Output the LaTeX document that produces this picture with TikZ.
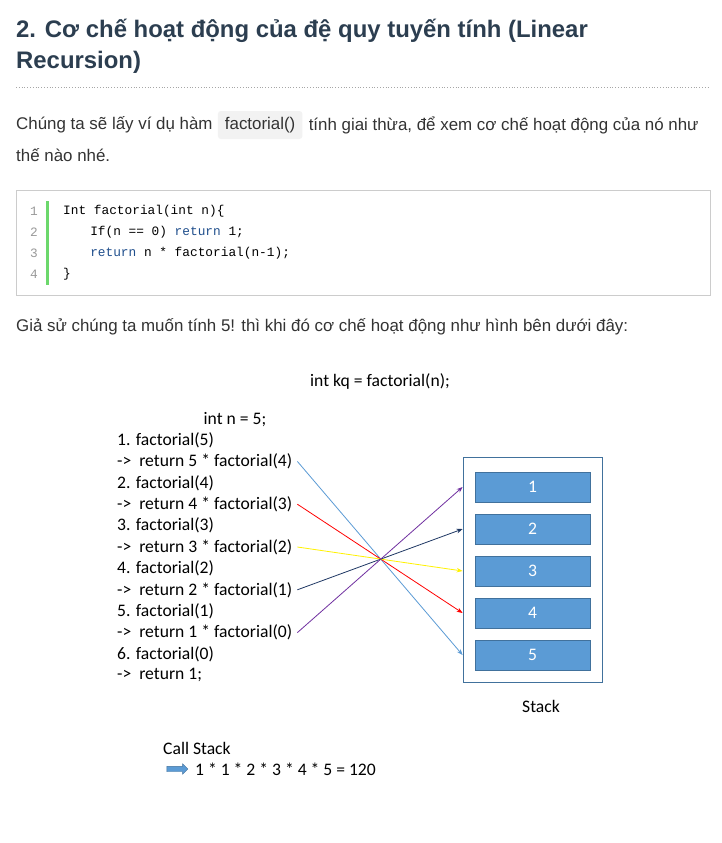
\documentclass[tikz,border=0pt]{standalone}
\usepackage{fontspec}
\setmainfont{Liberation Sans}
\setmonofont{Liberation Mono}
\newfontfamily\calibri{Carlito}
\usepackage{xcolor}
\usetikzlibrary{positioning,arrows.meta,shapes.arrows}

\definecolor{headcol}{HTML}{2C3E50}
\definecolor{bodycol}{HTML}{333333}
\definecolor{codebg}{HTML}{F2F2F2}
\definecolor{codeline}{HTML}{CCCCCC}
\definecolor{gutter}{HTML}{6CD86C}
\definecolor{kwcol}{HTML}{1F4E8C}
\definecolor{stackfill}{HTML}{5B9BD5}
\definecolor{stackline}{HTML}{41719C}
\definecolor{navycol}{HTML}{1F3864}
\definecolor{purplecol}{HTML}{7030A0}

\tikzset{
	body/.style={anchor=west,inner sep=0pt,text=bodycol,font=\fontsize{16.9}{20}\selectfont},
	diag/.style={anchor=west,inner sep=0pt,font=\calibri\fontsize{17.6}{20}\selectfont},
	codetxt/.style={anchor=west,inner sep=0pt,font=\ttfamily\fontsize{12.8}{15}\selectfont},
	lineno/.style={anchor=east,inner sep=0pt,text=gray!80,font=\ttfamily\fontsize{12.8}{15}\selectfont},
	cell/.style={draw=stackline,fill=stackfill,text=white,minimum width=115pt,minimum height=30pt,
		inner sep=0pt,font=\calibri\fontsize{17.6}{20}\selectfont},
	link/.style={-{Stealth[length=6pt,width=4.5pt]},line width=0.8pt}
}

\begin{document}
\begin{tikzpicture}[x=1pt,y=-1pt]
	\useasboundingbox[fill=white] (0,0) rectangle (721,843);
	
	% heading
	\node[anchor=west,inner sep=0pt,text=headcol,font=\bfseries\fontsize{23.9}{28}\selectfont] (h1) at (16,31)
		{2. Cơ chế hoạt động của đệ quy tuyến tính (Linear};
	\node[anchor=west,inner sep=0pt,text=headcol,font=\bfseries\fontsize{23.9}{28}\selectfont] (h2) at (16,62)
		{Recursion)};
	\draw[gray!70,dotted,line width=0.8pt] (16,87) -- (710,87);
	
	\node[body] (p1) at (16,125) {Chúng ta sẽ lấy ví dụ hàm};
	\node[body,fill=codebg,rounded corners=3pt,inner xsep=7pt,minimum height=28pt,right=5pt of p1] (fn) {factorial()};
	\node[body,right=6pt of fn] (p2) {tính giai thừa, để xem cơ chế hoạt động của nó như};
	\node[body] (p3) at (16,155) {thế nào nhé.};
	
	% code block
	\draw[codeline,line width=0.8pt] (16,190) rectangle (710,295);
	\draw[gutter,line width=3pt] (47.5,201) -- (47.5,285);
	\foreach \i in {1,2,3,4}
		\node[lineno] (n\i) at (38,190+21*\i) {\i};
	\node[codetxt] (c1) at (63,211) {Int factorial(int n)\{};
	\node[codetxt] (c2) at (63,232) {\hspace{4ex}If(n == 0) \textcolor{kwcol}{return} 1;};
	\node[codetxt] (c3) at (63,253) {\hspace{4ex}\textcolor{kwcol}{return} n * factorial(n-1);};
	\node[codetxt] (c4) at (63,274) {\}};
	
	\node[body] (p4) at (16,327) {Giả sử chúng ta muốn tính 5! thì khi đó cơ chế hoạt động như hình bên dưới đây:};
	
	% diagram
	\node[diag,anchor=center] (kq) at (380,381) {int kq = factorial(n);};
	\node[diag,anchor=center] (nv) at (235,420) {int n = 5;};
	\foreach \t [count=\i] in {1. factorial(5), ->\ \ return 5 * factorial(4),
		2. factorial(4), ->\ \ return 4 * factorial(3),
		3. factorial(3), ->\ \ return 3 * factorial(2),
		4. factorial(2), ->\ \ return 2 * factorial(1),
		5. factorial(1), ->\ \ return 1 * factorial(0),
		6. factorial(0), ->\ \ return 1;}
		\node[diag] (l\i) at (117,418.6+21.4*\i) {\t};
	
	\node[draw=stackline,line width=0.8pt,minimum width=139pt,minimum height=225pt] (stack) at (532.5,569.5) {};
	\foreach \i in {1,...,5}
		\node[cell] (s\i) at (532.5,445+42*\i) {\i};
	\node[diag,anchor=center] (stk) at (541,706) {Stack};
	
	\draw[link,stackfill] ([xshift=5pt]l2.east) -- (stack.west |- s5);
	\draw[link,red] ([xshift=5pt]l4.east) -- (stack.west |- s4);
	\draw[link,yellow] ([xshift=5pt]l6.east) -- (stack.west |- s3);
	\draw[link,navycol] ([xshift=5pt]l8.east) -- (stack.west |- s2);
	\draw[link,purplecol] ([xshift=5pt]l10.east) -- (stack.west |- s1);
	
	\node[diag] (cs) at (163,748) {Call Stack};
	\node[single arrow,draw=stackline,fill=stackfill,inner sep=2.5pt,minimum height=21pt,
		minimum width=10pt,single arrow head extend=2.5pt] (ar) at (176,769) {};
	\node[diag] (res) at (195,769) {1 * 1 * 2 * 3 * 4 * 5 = 120};
\end{tikzpicture}
\end{document}
